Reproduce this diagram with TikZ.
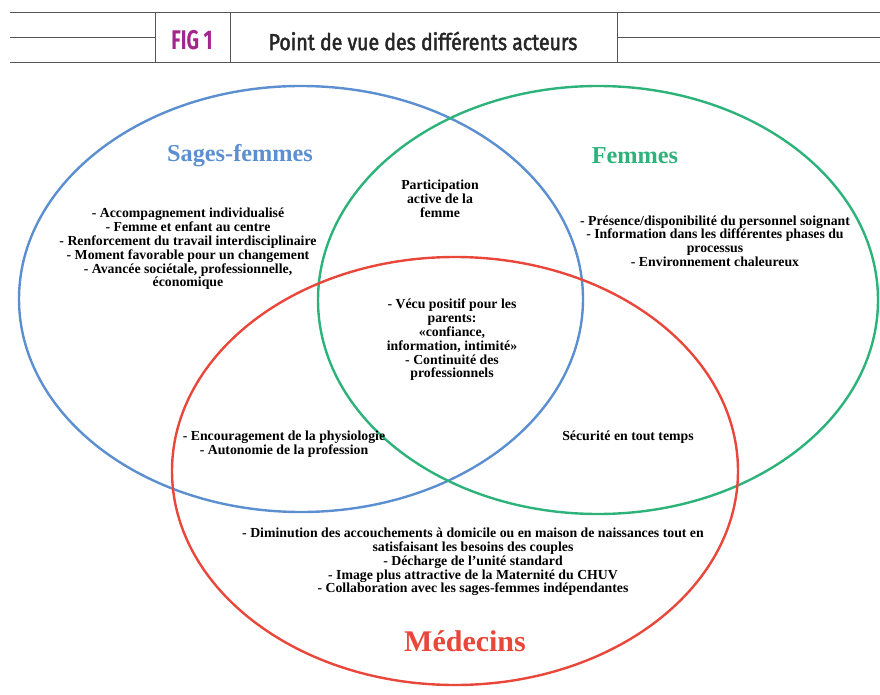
\documentclass[tikz,border=0pt]{standalone}
\usepackage{fontspec}
\setmainfont{Liberation Serif}
\newfontfamily\figfont[FakeStretch=0.72]{Fira Sans}
\newfontfamily\headfont[FakeStretch=0.85,FakeBold=2]{Fira Sans}
\usetikzlibrary{positioning}
\definecolor{sfblue}{HTML}{5B8FCF}
\definecolor{fgreen}{HTML}{2DB37A}
\definecolor{mred}{HTML}{E8473A}
\definecolor{figmag}{HTML}{A3268E}
\definecolor{rulegray}{HTML}{555555}
\tikzset{
  basic/.style  = {inner sep=1pt, align=center, font=\bfseries\fontsize{13.8}{13.8}\selectfont},
  group/.style  = {inner sep=0pt, font=\bfseries\fontsize{24.3}{26}\selectfont},
  ring/.style   = {line width=2.4pt},
  rule/.style   = {draw=rulegray, line width=1pt}
}

\begin{document}
\begin{tikzpicture}[x=1pt, y=-1pt]
	\useasboundingbox (0,0) rectangle (880,695);
	
	% title bar
	\draw[rule] (10,13) -- (880,13);
	\draw[rule] (10,63) -- (880,63);
	\draw[rule] (10,38) -- (155,38);
	\draw[rule] (617,38) -- (880,38);
	\foreach \x in {155,230,617}
	  \draw[rule] (\x,13) -- (\x,63);
	\node (fig) at (192,40) {\figfont\bfseries\fontsize{27}{30}\selectfont\color{figmag}FIG 1};
	\node (title) at (423,41) {\headfont\fontsize{23}{26}\selectfont\color{black!85}Point de vue des différents acteurs};
	
	% the three sets
	\draw[ring, sfblue] (301,299) ellipse (282 and 213);
	\draw[ring, fgreen] (598,300) ellipse (280 and 214);
	\draw[ring, mred] (455,471) ellipse (283 and 214);
	
	% set names
	\node[group, text=sfblue] (sf) at (240,156) {Sages-femmes};
	\node[group, text=fgreen] (fm) at (635,156) {Femmes};
	\node[group, text=mred, font=\bfseries\fontsize{30}{32}\selectfont] (md) at (465,641) {Médecins};
	
	% contents of each region
	\node[basic] (sf1) at (188,249) {- Accompagnement individualisé\\ - Femme et enfant au centre\\
	- Renforcement du travail interdisciplinaire\\ - Moment favorable pour un changement\\
	- Avancée sociétale, professionnelle,\\ économique};
	\node[basic] (sffm) at (440,199) {Participation\\ active de la\\ femme};
	\node[basic] (fm1) at (715,241) {- Présence/disponibilité du personnel soignant\\
	- Information dans les différentes phases du\\ processus\\ - Environnement chaleureux};
	\node[basic] (all) at (452,340) {- Vécu positif pour les\\ parents:\\ «confiance,\\
	information, intimité»\\ - Continuité des\\ professionnels};
	\node[basic] (sfmd) at (284,444) {- Encouragement de la physiologie\\ - Autonomie de la profession};
	\node[basic] (fmmd) at (628,437) {Sécurité en tout temps};
	\node[basic] (md1) at (473,562) {- Diminution des accouchements à domicile ou en maison de naissances tout en\\
	satisfaisant les besoins des couples\\ - Décharge de l’unité standard\\
	- Image plus attractive de la Maternité du CHUV\\ - Collaboration avec les sages-femmes indépendantes};
	
\end{tikzpicture}
\end{document}
